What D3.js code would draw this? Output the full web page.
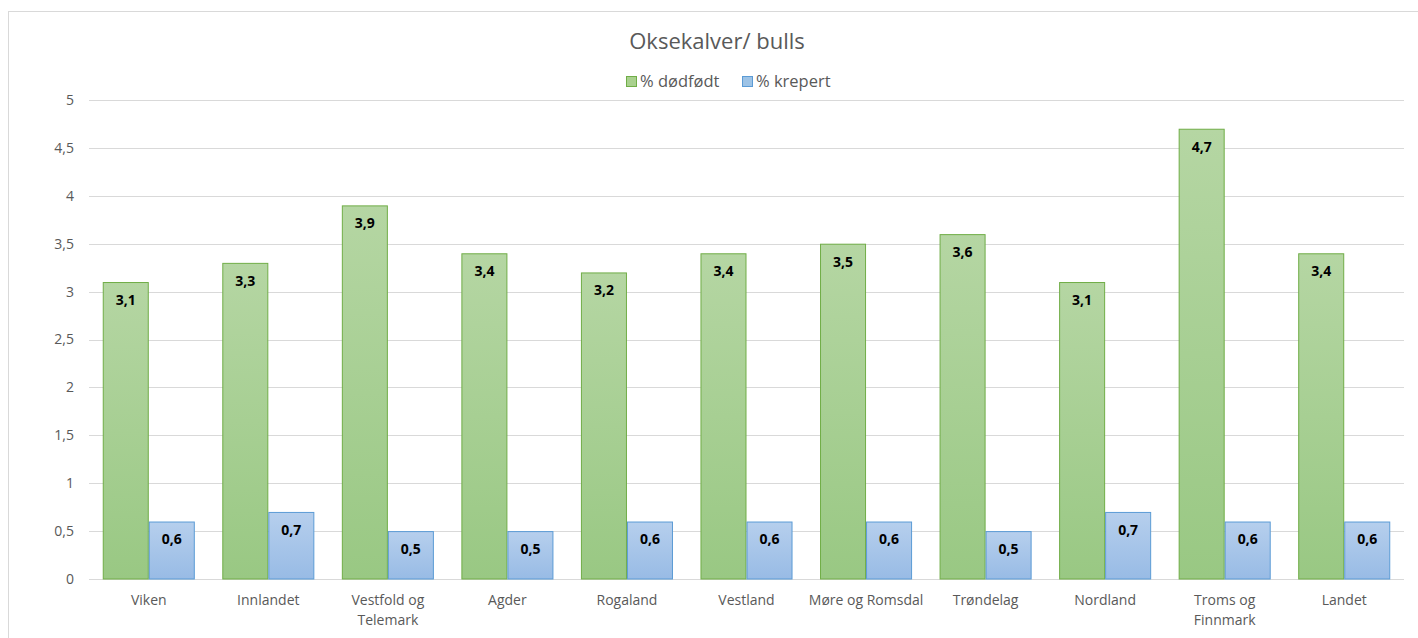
<!DOCTYPE html>
<html>
<head>
<meta charset="utf-8">
<script src="https://cdn.jsdelivr.net/npm/d3@7"></script>
<style>
  body { margin: 0; background: #fff; }
  svg { font-family: "Open Sans", "Liberation Sans", sans-serif; }
</style>
</head>
<body>
<svg id="chart" width="1418" height="638"></svg>
<script>
// data
var categories = ["Viken", "Innlandet", "Vestfold og Telemark", "Agder", "Rogaland",
  "Vestland", "Møre og Romsdal", "Trøndelag", "Nordland", "Troms og Finnmark", "Landet"];
var dodfodt = [3.1, 3.3, 3.9, 3.4, 3.2, 3.4, 3.5, 3.6, 3.1, 4.7, 3.4];
var krepert = [0.6, 0.7, 0.5, 0.5, 0.6, 0.6, 0.6, 0.5, 0.7, 0.6, 0.6];
var seriesNames = ["% dødfødt", "% krepert"];
var yTicks = [0, 0.5, 1, 1.5, 2, 2.5, 3, 3.5, 4, 4.5, 5];

(function() {
var svg = d3.select("#chart");
var fmt = function(v) { return String(v).replace(".", ","); };

// chart frame
svg.append("rect")
  .attr("x", 8.5).attr("y", 11.5)
  .attr("width", 1430).attr("height", 640)
  .attr("fill", "none").attr("stroke", "#d9d9d9");

var plotL = 89, plotR = 1404, plotT = 100, plotB = 579;

var x0 = d3.scaleBand().domain(categories).range([plotL, plotR]).paddingInner(0.23).paddingOuter(0.115);
var x1 = d3.scaleBand().domain([0, 1]).range([0, x0.bandwidth()]);
var y = d3.scaleLinear().domain([0, 5]).range([plotB, plotT]);

// gradients
var defs = svg.append("defs");
function grad(id, c1, c2) {
  var g = defs.append("linearGradient").attr("id", id)
    .attr("x1", 0).attr("y1", 0).attr("x2", 0).attr("y2", 1);
  g.append("stop").attr("offset", "0%").attr("stop-color", c1);
  g.append("stop").attr("offset", "100%").attr("stop-color", c2);
}
grad("gGreen", "#b5d6a3", "#99c883");
grad("gBlue", "#b6cfed", "#98bbe5");
var fills = ["url(#gGreen)", "url(#gBlue)"];
var strokes = ["#70ad47", "#5b9bd5"];
var legendFills = ["#a9d18e", "#9dc3e6"];

// gridlines
svg.append("g").selectAll("line").data(yTicks).join("line")
  .attr("x1", plotL).attr("x2", plotR)
  .attr("y1", function(d) { return Math.round(y(d)) + 0.5; })
  .attr("y2", function(d) { return Math.round(y(d)) + 0.5; })
  .attr("stroke", "#d9d9d9").attr("stroke-width", 1);

// y tick labels
svg.append("g").selectAll("text").data(yTicks).join("text")
  .attr("x", 74).attr("y", function(d) { return y(d); })
  .attr("dy", "0.35em")
  .attr("text-anchor", "end")
  .attr("font-size", 14).attr("fill", "#595959")
  .text(fmt);

// bars
var rows = categories.map(function(c, i) { return { cat: c, vals: [dodfodt[i], krepert[i]] }; });
var groups = svg.append("g").selectAll("g").data(rows).join("g")
  .attr("transform", function(d) { return "translate(" + x0(d.cat) + ",0)"; });

groups.selectAll("rect").data(function(d) { return d.vals; }).join("rect")
  .attr("x", function(d, i) { return x1(i) + 0.5; })
  .attr("y", function(d) { return y(d) + 0.5; })
  .attr("width", x1.bandwidth() - 1)
  .attr("height", function(d) { return y(0) - y(d) - 0.5; })
  .attr("fill", function(d, i) { return fills[i]; })
  .attr("stroke", function(d, i) { return strokes[i]; })
  .attr("stroke-width", 1);

groups.selectAll("text").data(function(d) { return d.vals; }).join("text")
  .attr("x", function(d, i) { return x1(i) + x1.bandwidth() / 2; })
  .attr("y", function(d) { return y(d) + 18; })
  .attr("dy", "0.35em")
  .attr("text-anchor", "middle")
  .attr("font-size", 14).attr("font-weight", "bold").attr("fill", "#000")
  .text(fmt);

// category labels, wrapped like the original
var wrapped = {
  "Vestfold og Telemark": ["Vestfold og", "Telemark"],
  "Troms og Finnmark": ["Troms og", "Finnmark"]
};
var cl = svg.append("g").selectAll("text").data(categories).join("text")
  .attr("x", function(d) { return x0(d) + x0.bandwidth() / 2; })
  .attr("y", 605)
  .attr("text-anchor", "middle")
  .attr("font-size", 14).attr("fill", "#595959");
cl.each(function(d) {
  var lines = wrapped[d] || [d];
  var t = d3.select(this);
  lines.forEach(function(l, k) {
    t.append("tspan").attr("x", x0(d) + x0.bandwidth() / 2).attr("dy", k ? 20 : 0).text(l);
  });
});

// title
svg.append("text")
  .attr("x", 717).attr("y", 49)
  .attr("text-anchor", "middle")
  .attr("font-size", 22).attr("fill", "#595959")
  .text("Oksekalver/ bulls");

// legend
var legX = [626, 742];
var leg = svg.append("g").selectAll("g").data(seriesNames).join("g")
  .attr("transform", function(d, i) { return "translate(" + legX[i] + ",76)"; });
leg.append("rect")
  .attr("x", 0.5).attr("y", 0.5).attr("width", 10).attr("height", 10)
  .attr("fill", function(d, i) { return legendFills[i]; })
  .attr("stroke", function(d, i) { return strokes[i]; });
leg.append("text")
  .attr("x", 14).attr("y", 5.5).attr("dy", "0.35em")
  .attr("font-size", 16.5).attr("fill", "#595959")
  .text(function(d) { return d; });
})();
</script>
</body>
</html>
